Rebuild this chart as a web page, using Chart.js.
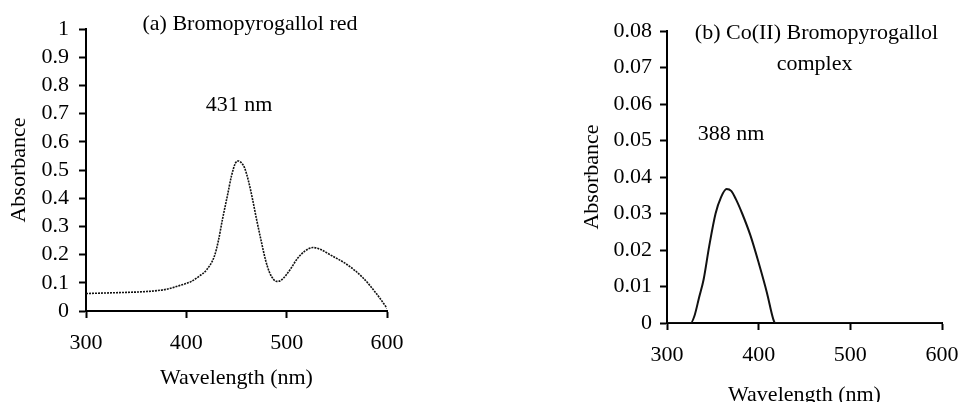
<!DOCTYPE html>
<html>
<head>
<meta charset="utf-8">
<script src="https://cdn.jsdelivr.net/npm/chart.js@4"></script>
<style>
  html, body { margin: 0; padding: 0; background: #fff; overflow: hidden; }
  body { width: 958px; height: 402px; position: relative; }
  canvas { position: absolute; top: 0; }
  #chartA { left: 0; }
  #chartB { left: 480px; }
</style>
</head>
<body>
<canvas id="chartA" width="480" height="402"></canvas>
<canvas id="chartB" width="500" height="414"></canvas>
<script>
// Spectrum (a) Bromopyrogallol red - wavelength (nm) / absorbance
const wavelengthA = [300, 320, 340, 360, 380, 393, 405, 413, 420, 428, 432, 436, 441, 445, 449, 452, 455, 458, 462, 466, 470, 475, 479, 483, 487, 490, 494, 500, 505, 510, 518, 526, 534, 543, 560, 576, 590, 600];
const absorbanceA = [0.062, 0.064, 0.066, 0.069, 0.077, 0.09, 0.105, 0.124, 0.145, 0.195, 0.25, 0.325, 0.41, 0.479, 0.525, 0.532, 0.525, 0.508, 0.46, 0.396, 0.325, 0.242, 0.18, 0.136, 0.112, 0.105, 0.108, 0.13, 0.155, 0.183, 0.212, 0.225, 0.218, 0.2, 0.165, 0.118, 0.059, 0.01];

// Spectrum (b) Co(II) Bromopyrogallol complex
const wavelengthB = [300, 320, 326, 330, 335, 340, 346, 353, 359, 365, 370, 375, 382, 391, 400, 409, 416, 418, 450, 500, 600];
const absorbanceB = [0, 0, 0, 0.002, 0.007, 0.012, 0.021, 0.030, 0.0345, 0.0367, 0.0362, 0.034, 0.030, 0.024, 0.0165, 0.0083, 0.001, 0, 0, 0, 0];

// axis ranges / tick steps
const xRange = [300, 600];
const xStep = 100;
const yRangeA = [0, 1];
const yStepA = 0.1;
const yRangeB = [0, 0.08];
const yStepB = 0.01;

// text labels placed in data units: [text, wavelength, absorbance]
const notesA = [["(a) Bromopyrogallol red", 463.5, 1.016], ["431 nm", 452.5, 0.73]];
const notesB = [["(b) Co(II) Bromopyrogallol", 463, 0.0795], ["complex", 461, 0.071], ["388 nm", 370, 0.0518]];

const FONT = "'Liberation Serif', 'Times New Roman', serif";

function toPoints(xs, ys) {
    return xs.map((x, i) => ({ x: x, y: ys[i] }));
}

// "1", "0.9" ... instead of "1.0"
function shortNum(v) {
    return String(parseFloat(Number(v).toFixed(4)));
}

// draws the annotation texts at their data positions
const notesPlugin = {
    id: 'notes',
    afterDraw(chart, args, opts) {
        const ctx = chart.ctx;
        const xs = chart.scales.x, ys = chart.scales.y;
        ctx.save();
        ctx.fillStyle = '#000';
        ctx.font = '22px ' + FONT;
        ctx.textAlign = 'center';
        ctx.textBaseline = 'middle';
        opts.items.forEach(n => {
            ctx.fillText(n[0], xs.getPixelForValue(n[1]), ys.getPixelForValue(n[2]));
        });
        ctx.restore();
    }
};

function makeChart(id, points, yRange, yStep, notes, lay) {
    const line = lay.dotted
        ? { borderWidth: 1.6, borderDash: [2, 1] }
        : { borderWidth: 2, borderDash: [] };
    return new Chart(document.getElementById(id), {
        type: 'line',
        data: {
            datasets: [{
                data: points,
                borderColor: '#111',
                borderWidth: line.borderWidth,
                borderDash: line.borderDash,
                pointRadius: 0,
                cubicInterpolationMode: 'monotone',
                fill: false
            }]
        },
        options: {
            responsive: false,
            animation: false,
            layout: { padding: lay.padding },
            plugins: {
                legend: { display: false },
                tooltip: { enabled: false },
                notes: { items: notes }
            },
            scales: {
                x: {
                    type: 'linear',
                    min: xRange[0],
                    max: xRange[1],
                    afterFit: s => { s.height = lay.xHeight; },
                    ticks: { stepSize: xStep, autoSkip: false, maxRotation: 0, color: '#000', padding: 12, font: { family: FONT, size: 22 } },
                    grid: { drawOnChartArea: false, color: '#000', tickLength: 7, tickWidth: 2 },
                    border: { color: '#000', width: 2 },
                    title: { display: true, text: 'Wavelength (nm)', color: '#000', padding: { top: 4, bottom: 4 }, font: { family: FONT, size: 22 } }
                },
                y: {
                    min: yRange[0],
                    max: yRange[1],
                    afterFit: s => { s.width = lay.yWidth; },
                    ticks: { stepSize: yStep, autoSkip: false, callback: shortNum, color: '#000', padding: lay.yPad, font: { family: FONT, size: 22 } },
                    grid: { drawOnChartArea: false, color: '#000', tickLength: 7, tickWidth: 2 },
                    border: { color: '#000', width: 2 },
                    title: { display: true, text: 'Absorbance', color: '#000', padding: { top: 6, bottom: 4 }, font: { family: FONT, size: 22 } }
                }
            }
        },
        plugins: [notesPlugin]
    });
}

const chartA = makeChart('chartA', toPoints(wavelengthA, absorbanceA), yRangeA, yStepA, notesA, {
    padding: { top: 29, right: 93, bottom: 7, left: 0 },
    xHeight: 84,
    yWidth: 86,
    yPad: 10,
    dotted: true
});

const chartB = makeChart('chartB', toPoints(wavelengthB, absorbanceB), yRangeB, yStepB, notesB, {
    padding: { top: 31, right: 38, bottom: 2, left: 93 },
    xHeight: 89,
    yWidth: 94,
    yPad: 8,
    dotted: false
});
</script>
</body>
</html>
